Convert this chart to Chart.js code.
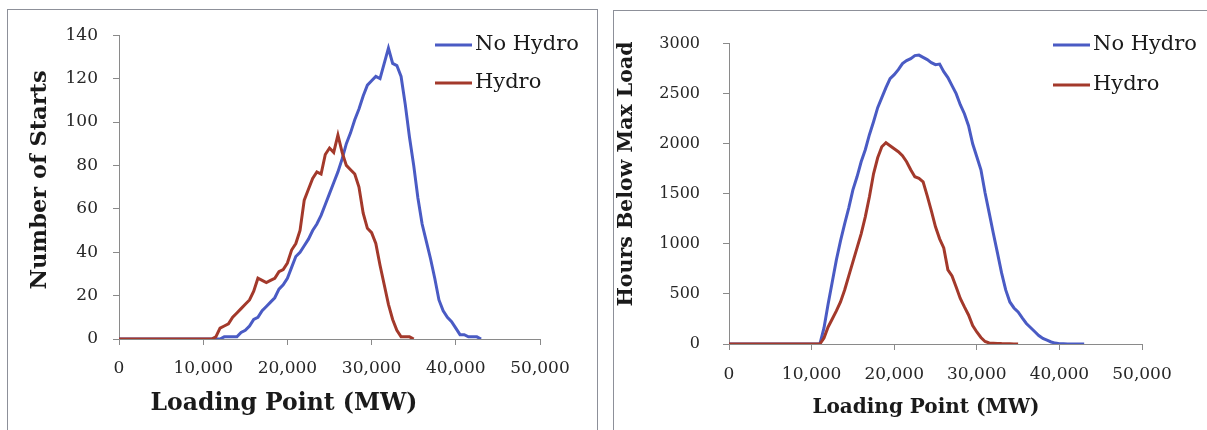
<!DOCTYPE html>
<html><head><meta charset="utf-8">
<script src="https://cdn.jsdelivr.net/npm/chart.js@4.4.1/dist/chart.umd.min.js"></script>
<style>
html,body{margin:0;padding:0;background:#fff;overflow:hidden;width:1207px;height:430px}
.frame{position:absolute;border:1px solid #8d9099;border-bottom:none;background:#fff}
#f1{left:7px;top:9px;width:589px;height:421px}
#f2{left:613px;top:10px;width:594px;height:420px;border-right:none}
canvas{display:block}
</style></head>
<body>
<div class="frame" id="f1"><canvas id="c1" width="589" height="420"></canvas></div>
<div class="frame" id="f2"><canvas id="c2" width="593" height="419"></canvas></div>
<script>
// ---- data ----
const seriesNames = ['No Hydro', 'Hydro'];
const loadMW = [0,11000,11500,12000,12500,13000,13500,14000,14500,15000,15500,
  16000,16500,17000,17500,18000,18500,19000,19500,20000,20500,
  21000,21500,22000,22500,23000,23500,24000,24500,25000,25500,
  26000,26500,27000,27500,28000,28500,29000,29500,30000,30500,
  31000,31500,32000,32500,33000,33500,34000,34500,35000,35500,
  36000,36500,37000,37500,38000,38500,39000,39500,40000,40500,
  41000,41500,42000,42500,43000];
const startsNoHydro = [0, 0,0,0,1,1,1,1,3,4,6,
  9,10,13,15,17,19,23,25,28,33,
  38,40,43,46,50,53,57,62,67,72,
  77,83,90,95,101,106,112,117,119,121,
  120,127,134,127,126,121,108,93,80,65,
  53,45,37,28,18,13,10,8,5,2,
  2,1,1,1,0];
const startsHydro = [0, 0,1,5,6,7,10,12,14,16,18,
  22,28,27,26,27,28,31,32,35,41,
  44,50,64,69,74,77,76,85,88,86,
  94,86,80,78,76,70,58,51,49,44,
  34,25,16,9,4,1,1,1,0,null,
  null,null,null,null,null,null,null,null,null,null,
  null,null,null,null,null];
const hoursNoHydro = [0, 0,160,400,620,840,1030,1200,1360,1540,1670,
  1820,1940,2090,2220,2360,2460,2560,2650,2690,2740,
  2800,2830,2850,2880,2885,2862,2840,2810,2790,2795,
  2720,2660,2580,2500,2390,2300,2180,2000,1870,1740,
  1510,1310,1106,910,710,540,420,360,320,260,
  205,165,125,85,55,38,20,9,3,2,
  1,1,0,0,0];
const hoursHydro = [0, 0,60,170,250,330,420,540,680,820,960,
  1100,1270,1470,1700,1860,1970,2010,1980,1950,1920,
  1880,1820,1740,1670,1655,1620,1480,1330,1170,1050,
  960,740,680,570,455,370,290,185,120,65,
  25,10,8,6,4,3,2,1,0,null,
  null,null,null,null,null,null,null,null,null,null,
  null,null,null,null,null];
const xTicks = [0,10000,20000,30000,40000,50000];
const startsTicks = [0,20,40,60,80,100,120,140];
const hoursTicks = [0,500,1000,1500,2000,2500,3000];

const colors = {noHydro:'#4a5bc4', hydro:'#a3392b'};
const FONT = '"DejaVu Serif", "Liberation Serif", serif';

function pts(xs, ys){ return xs.map((x,i)=>({x:x, y:ys[i]})); }

const decor = {
  id:'decor',
  afterDraw(chart, args, o){
    const ctx = chart.ctx;
    ctx.save();
    // axis titles
    o.titles.forEach(t=>{
      ctx.save();
      ctx.translate(t.x, t.y);
      ctx.rotate(t.rot || 0);
      ctx.font = 'bold ' + t.size + 'px ' + FONT;
      ctx.fillStyle = '#1a1a1a';
      ctx.textAlign = 'center';
      ctx.textBaseline = 'middle';
      ctx.fillText(t.text, 0, 0);
      ctx.restore();
    });
    // legend
    const L = o.legend;
    seriesNames.forEach((name,i)=>{
      const ds = chart.data.datasets.find(d=>d.label===name);
      const y = L.y[i];
      ctx.strokeStyle = ds.borderColor;
      ctx.lineWidth = 3;
      ctx.beginPath(); ctx.moveTo(L.x1, y); ctx.lineTo(L.x2, y); ctx.stroke();
      ctx.font = L.size + 'px ' + FONT;
      ctx.fillStyle = '#1a1a1a';
      ctx.textAlign = 'left';
      ctx.textBaseline = 'middle';
      ctx.fillText(name, L.tx, y);
    });
    ctx.restore();
  }
};

function makeChart(id, ys, yTicks, yMax, geom){
  const axisColor = '#8a8a8a';
  return new Chart(document.getElementById(id), {
    type:'line',
    data:{datasets:[
      {label:seriesNames[0], data:pts(loadMW, ys[0]), borderColor:colors.noHydro, borderWidth:3, pointRadius:0, tension:0, order:1, spanGaps:false},
      {label:seriesNames[1], data:pts(loadMW, ys[1]), borderColor:colors.hydro, borderWidth:3, pointRadius:0, tension:0, order:0, spanGaps:false}
    ]},
    options:{
      responsive:false, animation:false, events:[],
      layout:{padding:{left:0, top:geom.top, right:geom.right, bottom:0}},
      plugins:{legend:{display:false}, tooltip:{enabled:false}, decor:geom.decor},
      scales:{
        x:{type:'linear', min:0, max:50000,
          afterBuildTicks(s){ s.ticks = xTicks.map(v=>({value:v})); },
          afterFit(s){ s.height = geom.xh; },
          grid:{drawOnChartArea:false, drawTicks:true, tickLength:6, color:axisColor},
          border:{display:true, color:axisColor, width:1},
          ticks:{maxRotation:0, autoSkip:false, padding:geom.xpad, color:'#262626',
            font:{family:FONT, size:17},
            callback:v=>v.toLocaleString('en-US')}
        },
        y:{type:'linear', min:0, max:yMax,
          afterBuildTicks(s){ s.ticks = yTicks.map(v=>({value:v})); },
          afterFit(s){ s.width = geom.yw; },
          grid:{drawOnChartArea:false, drawTicks:true, tickLength:6, color:axisColor},
          border:{display:true, color:axisColor, width:1},
          ticks:{padding:geom.ypad, color:'#262626', font:{family:FONT, size:geom.ysize},
            callback:v=>String(v)}
        }
      }
    },
    plugins:[decor]
  });
}

makeChart('c1', [startsNoHydro, startsHydro], startsTicks, 140, {
  top:24, right:57, xh:91, yw:111, xpad:13, ypad:15, ysize:17,
  decor:{
    titles:[
      {text:'Number of Starts', x:32, y:170, rot:-Math.PI/2, size:22.5},
      {text:'Loading Point (MW)', x:276, y:394, size:23.5}
    ],
    legend:{x1:427, x2:464, tx:467, y:[35,73], size:21}
  }
});

makeChart('c2', [hoursNoHydro, hoursHydro], hoursTicks, 3000, {
  top:23, right:65, xh:86, yw:115, xpad:14, ypad:23, ysize:16,
  decor:{
    titles:[
      {text:'Hours Below Max Load', x:13, y:163, rot:-Math.PI/2, size:20.5},
      {text:'Loading Point (MW)', x:312, y:397, size:20}
    ],
    legend:{x1:439, x2:476, tx:479, y:[34,74], size:21}
  }
});
</script>
</body></html>
